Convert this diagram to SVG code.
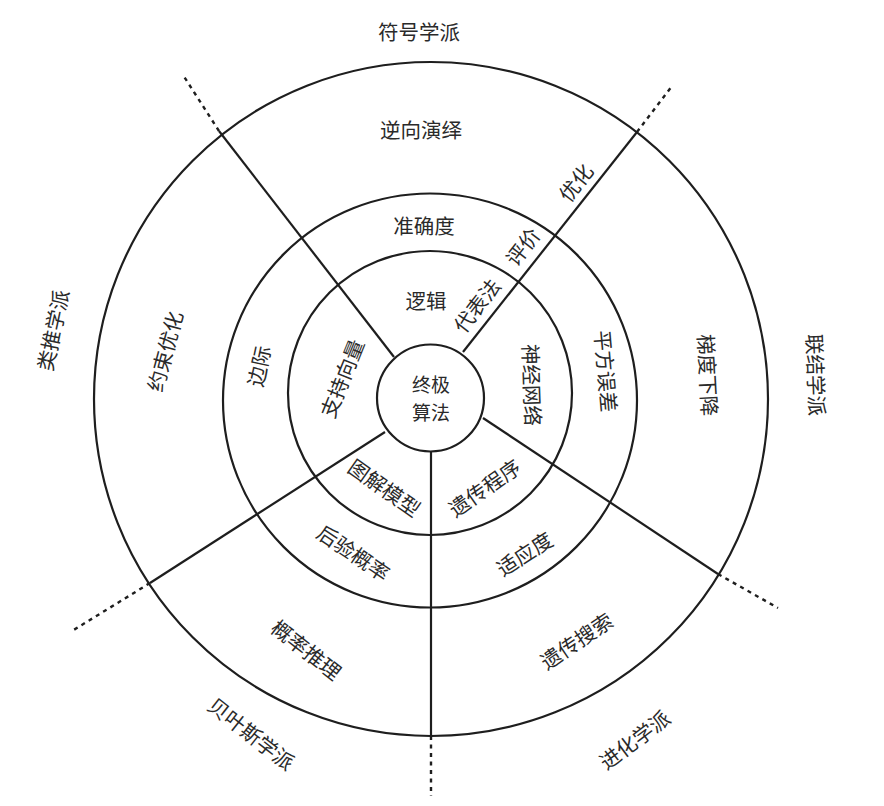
<svg xmlns="http://www.w3.org/2000/svg" width="884" height="806" viewBox="0 0 884 806">
<style>
.ring{fill:none;stroke:#1e1e1e;stroke-width:2.2}
.ln{fill:none;stroke:#1e1e1e;stroke-width:2.2}
.dash{fill:none;stroke:#1e1e1e;stroke-width:2.4;stroke-dasharray:4 4.5}
text{font-family:"Noto Sans CJK SC","Noto Sans CJK JP",sans-serif;font-size:20.5px;fill:#2a2a2a;text-anchor:middle;dominant-baseline:central}
.core{font-size:19px}
</style>
<rect width="884" height="806" fill="#ffffff"/>
<g id="rings">
<circle class="ring" cx="431" cy="399" r="337"/>
<circle class="ring" cx="430" cy="400.5" r="207"/>
<circle class="ring" cx="430" cy="393" r="142"/>
</g>
<g id="connectors">
<line class="ln" x1="394" y1="357" x2="219" y2="131"/>
<line class="dash" x1="219" y1="131" x2="183" y2="75"/>
<line class="ln" x1="463" y1="352" x2="637" y2="132"/>
<line class="dash" x1="637" y1="132" x2="672" y2="86"/>
<line class="ln" x1="385" y1="432" x2="150" y2="583"/>
<line class="dash" x1="150" y1="583" x2="72" y2="631"/>
<line class="ln" x1="483" y1="418" x2="718" y2="574"/>
<line class="dash" x1="718" y1="574" x2="778" y2="608"/>
<line class="ln" x1="431" y1="452" x2="431" y2="736"/>
<line class="dash" x1="431" y1="736" x2="431" y2="796"/>
</g>
<g id="core">
<circle class="ring" cx="430.5" cy="398" r="53.5" fill="#fff"/>
<text class="core" x="431" y="383">终极</text>
<text class="core" x="431" y="411">算法</text>
</g>
<g id="school-symbolists"><text x="419" y="31">符号学派</text></g>
<g id="school-connectionists"><text transform="translate(817,375) rotate(88)">联结学派</text></g>
<g id="school-evolutionaries"><text transform="translate(634,739) rotate(-37)">进化学派</text></g>
<g id="school-bayesians"><text transform="translate(252,733) rotate(38)">贝叶斯学派</text></g>
<g id="school-analogizers"><text transform="translate(52,330) rotate(-78)">类推学派</text></g>
<g id="outer-inverse-deduction"><text x="421" y="129">逆向演绎</text></g>
<g id="outer-gradient-descent"><text transform="translate(709,375) rotate(87)">梯度下降</text></g>
<g id="outer-genetic-search"><text transform="translate(576,640) rotate(-34)">遗传搜索</text></g>
<g id="outer-probabilistic-inference"><text transform="translate(307,649) rotate(38)">概率推理</text></g>
<g id="outer-constrained-optimization"><text transform="translate(164,351) rotate(-75)">约束优化</text></g>
<g id="mid-accuracy"><text x="424" y="225">准确度</text></g>
<g id="mid-squared-error"><text transform="translate(607,371) rotate(85)">平方误差</text></g>
<g id="mid-fitness"><text transform="translate(524,553) rotate(-33)">适应度</text></g>
<g id="mid-posterior"><text transform="translate(354,552) rotate(34)">后验概率</text></g>
<g id="mid-margin"><text transform="translate(258,366) rotate(-78)">边际</text></g>
<g id="inner-logic"><text x="426" y="300">逻辑</text></g>
<g id="inner-neural-networks"><text transform="translate(533,385) rotate(88)">神经网络</text></g>
<g id="inner-genetic-programs"><text transform="translate(484,487) rotate(-35)">遗传程序</text></g>
<g id="inner-graphical-models"><text transform="translate(385,487) rotate(35)">图解模型</text></g>
<g id="inner-svm"><text transform="translate(341,378) rotate(-68)">支持向量</text></g>
<g id="line-labels">
<text transform="translate(575,182) rotate(-52)">优化</text>
<text transform="translate(522,246) rotate(-52)">评价</text>
<text transform="translate(476,305) rotate(-52)">代表法</text>
</g>
</svg>
